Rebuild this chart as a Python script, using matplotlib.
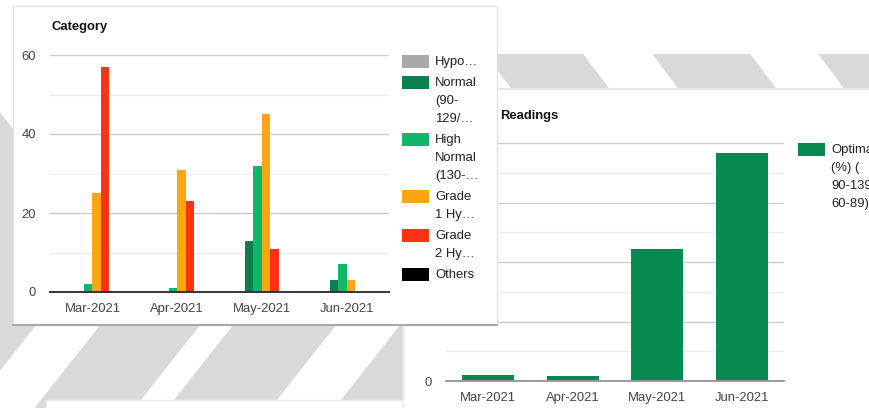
import matplotlib
matplotlib.use("Agg")
import matplotlib.pyplot as plt
from matplotlib.patches import Polygon, Rectangle

plt.rcParams["font.family"] = ["Liberation Sans", "DejaVu Sans"]

# ---------------------------------------------------------------------------
# Data
# ---------------------------------------------------------------------------
MONTHS = ["Mar-2021", "Apr-2021", "May-2021", "Jun-2021"]

CATEGORY_LABELS = [
    "Hypo…",
    "Normal\n(90-\n129/…",
    "High\nNormal\n(130-…",
    "Grade\n1 Hy…",
    "Grade\n2 Hy…",
    "Others",
]
HYPO = [0, 0, 0, 0]
NORMAL = [0, 0, 13, 3]
HIGH_NORMAL = [2, 1, 32, 7]
GRADE_1 = [25, 31, 45, 3]
GRADE_2 = [57, 23, 11, 0]
OTHERS = [0, 0, 0, 0]
CATEGORY_SERIES = [HYPO, NORMAL, HIGH_NORMAL, GRADE_1, GRADE_2, OTHERS]
CATEGORY_COLORS = ["#aba8a8", "#0b7f4e", "#12b66b", "#ffa412", "#ff3214", "#000000"]

OPTIMAL_PCT = [2.0, 1.7, 44.3, 76.5]
OPTIMAL_LABEL = "Optimal\n(%) (\n90-139/\n60-89)"
OPTIMAL_COLOR = "#08894f"

# ---------------------------------------------------------------------------
# Layout (pixels, y measured from the top)
# ---------------------------------------------------------------------------
W, H = 869, 408
STRIPE = "#d9d9d9"
FS = 9.4
TICK_COLOR = "#444444"
TEXT_COLOR = "#222222"
LINE_STEP = 18


def fig_rect(x0, y0, x1, y1):
    return [x0 / W, 1 - y1 / H, (x1 - x0) / W, (y1 - y0) / H]


def pixel_axes(zorder):
    ax = fig.add_axes([0, 0, 1, 1], zorder=zorder)
    ax.set_xlim(0, W)
    ax.set_ylim(H, 0)
    ax.axis("off")
    ax.patch.set_visible(False)
    return ax


def draw_legend(ax, trans, x, tops, labels, colors):
    for top, label, color in zip(tops, labels, colors):
        ax.add_patch(Rectangle((x, top), 27, 13, facecolor=color,
                               edgecolor="none", transform=trans, clip_on=False))
        for k, line in enumerate(label.split("\n")):
            ax.text(x + 33, top + 7 + k * LINE_STEP, line, transform=trans,
                    ha="left", va="center", fontsize=FS, color=TEXT_COLOR,
                    clip_on=False)


def style_axes(ax, ymax, major, base_color):
    ax.set_xlim(-0.5, len(MONTHS) - 0.5)
    ax.set_ylim(0, ymax)
    ax.set_xticks(range(len(MONTHS)))
    ax.set_xticklabels(MONTHS)
    ax.set_yticks(range(0, ymax + 1, major))
    ax.set_yticks(range(major // 2, ymax, major), minor=True)
    ax.grid(which="major", axis="y", color="#cccccc", lw=1)
    ax.grid(which="minor", axis="y", color="#ebebeb", lw=1)
    ax.set_axisbelow(True)
    for s in ax.spines.values():
        s.set_visible(False)
    ax.tick_params(which="both", length=0, labelsize=FS, colors=TICK_COLOR)
    ax.tick_params(axis="x", pad=8)
    ax.tick_params(axis="y", pad=10)
    ax.axhline(0, color=base_color, lw=1.4, clip_on=False, zorder=3)
    ax.patch.set_visible(False)


fig = plt.figure(figsize=(W / 100, H / 100), dpi=100)

# ---------------------------------------------------------------------------
# Background stripes and the panels behind
# ---------------------------------------------------------------------------
bg = pixel_axes(0)

# lower band, "/" stripes (start, end measured at y=329)
for s, e in [(-150, 33), (97, 197), (230, 333), (397, 500)]:
    pts = [(s + 0.79 * 29, 300), (e + 0.79 * 29, 300),
           (e - 0.79 * 79, 408), (s - 0.79 * 79, 408)]
    bg.add_patch(Polygon(pts, closed=True, facecolor=STRIPE, edgecolor="none"))
# left margin strip
bg.add_patch(Polygon([(0, 112), (13, 129), (13, 330), (0, 330)],
                     closed=True, facecolor=STRIPE, edgecolor="none"))
# upper band, "\" stripes (start, end measured at y=87)
for s, e in [(510, 608), (677, 775), (843, 941)]:
    pts = [(s - 0.75 * 33, 54), (e - 0.75 * 33, 54),
           (e + 0.75 * 3, 90), (s + 0.75 * 3, 90)]
    bg.add_patch(Polygon(pts, closed=True, facecolor=STRIPE, edgecolor="none"))

# right panel and bottom panel
bg.add_patch(Rectangle((403, 88.5), 480, 330, facecolor="white",
                       edgecolor="#e6e6e6", lw=1.5, zorder=3))
bg.add_patch(Rectangle((46, 399.5), 357, 20, facecolor="white",
                       edgecolor="#ebebeb", lw=1, zorder=3))

# ---------------------------------------------------------------------------
# Right chart: Readings (its left part sits under the left panel)
# ---------------------------------------------------------------------------
axr = fig.add_axes(fig_rect(446, 143, 784, 381), zorder=1)
axr.bar(range(len(MONTHS)), OPTIMAL_PCT, width=0.62, color=OPTIMAL_COLOR, zorder=2)
style_axes(axr, 80, 20, "#999999")
axr.text(500, 116, "Readings", transform=bg.transData,
         ha="left", va="center", fontsize=FS, fontweight="bold", color="#111111")
draw_legend(axr, bg.transData, 798, [143], [OPTIMAL_LABEL], [OPTIMAL_COLOR])

# ---------------------------------------------------------------------------
# Left panel on top
# ---------------------------------------------------------------------------
ov = pixel_axes(2)
ov.add_patch(Rectangle((12.5, 5.5), 484, 319.5, facecolor="white",
                       edgecolor="#e3e3e3", lw=1))
ov.plot([12.5, 496.5], [325, 325], color="#9a9a9a", lw=1.2)
ov.text(51, 27, "Category", ha="left", va="center", fontsize=FS,
        fontweight="bold", color="#111111")
draw_legend(ov, ov.transData, 402, [55, 76, 133, 190, 229, 268],
            CATEGORY_LABELS, CATEGORY_COLORS)

axl = fig.add_axes(fig_rect(50, 55, 389, 292), zorder=3)
BAR_W = 0.1
for j, (vals, color) in enumerate(zip(CATEGORY_SERIES, CATEGORY_COLORS)):
    xs = [i + (j - 2.5) * BAR_W for i in range(len(MONTHS))]
    axl.bar(xs, vals, width=BAR_W, color=color, zorder=2)
style_axes(axl, 60, 20, "#333333")

fig.savefig("out.png", dpi=100, facecolor="white")
plt.close(fig)
